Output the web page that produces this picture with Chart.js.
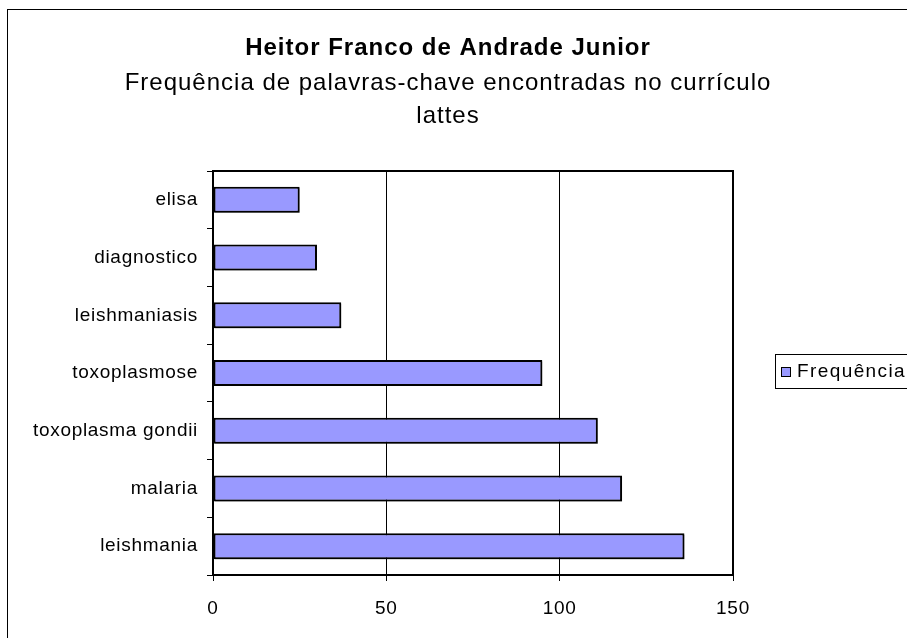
<!DOCTYPE html>
<html>
<head>
<meta charset="utf-8">
<script src="https://cdn.jsdelivr.net/npm/chart.js@4.4.1/dist/chart.umd.min.js"></script>
<style>
  html, body { margin: 0; padding: 0; background: #fff; }
  #wrap { width: 907px; height: 638px; position: relative; }
</style>
</head>
<body>
<div id="wrap"><canvas id="c" width="907" height="638"></canvas></div>
<script>
const categories = ['elisa', 'diagnostico', 'leishmaniasis', 'toxoplasmose', 'toxoplasma gondii', 'malaria', 'leishmania'];
const frequencia = [25, 30, 37, 95, 111, 118, 136];
const seriesName = 'Frequência';
const titleText = 'Heitor Franco de Andrade Junior';
const subtitleLines = ['Frequência de palavras-chave encontradas no currículo', 'lattes'];
const xTicks = [0, 50, 100, 150];

const FONT = '"Liberation Sans", Arial, sans-serif';

const spacingPlugin = {
  id: 'spacing',
  beforeUpdate(chart) { chart.ctx.letterSpacing = '0.7px'; },
  beforeDraw(chart) {
    const ctx = chart.ctx;
    ctx.letterSpacing = '0.7px';
    ctx.save();
    ctx.fillStyle = '#fff';
    ctx.fillRect(0, 0, chart.width, chart.height);
    ctx.strokeStyle = '#000';
    ctx.lineWidth = 1;
    ctx.strokeRect(7.5, 9.5, 1000, 1000);
    // titles
    ctx.fillStyle = '#000';
    ctx.textAlign = 'center';
    ctx.textBaseline = 'middle';
    ctx.letterSpacing = '1px';
    ctx.font = 'bold 24px ' + FONT;
    ctx.fillText(titleText, 448, 48);
    ctx.font = '24px ' + FONT;
    ctx.fillText(subtitleLines[0], 448, 83);
    ctx.fillText(subtitleLines[1], 448, 116);
    ctx.restore();
  },
  beforeDatasetsDraw(chart) {
    const ctx = chart.ctx;
    ctx.save();
    ctx.shadowColor = 'rgba(0,0,0,0.35)';
    ctx.shadowOffsetX = 1.5;
    ctx.shadowOffsetY = 1.5;
    ctx.shadowBlur = 0;
  },
  afterDatasetsDraw(chart) {
    chart.ctx.restore();
  },
  afterDraw(chart) {
    const ctx = chart.ctx;
    const a = chart.chartArea;
    ctx.save();
    ctx.strokeStyle = '#000';
    ctx.lineWidth = 2;
    ctx.strokeRect(a.left, a.top, a.right - a.left, a.bottom - a.top);
    // legend
    const ds = chart.data.datasets[0];
    ctx.lineWidth = 1;
    ctx.strokeRect(775.5, 354.5, 200, 34);
    ctx.fillStyle = ds.backgroundColor;
    ctx.fillRect(781, 367, 10, 10);
    ctx.strokeRect(781.5, 367.5, 9, 9);
    ctx.fillStyle = '#000';
    ctx.letterSpacing = '1.4px';
    ctx.font = '19px ' + FONT;
    ctx.textAlign = 'left';
    ctx.textBaseline = 'middle';
    ctx.fillText(ds.label, 797, 372);
    ctx.restore();
  }
};

new Chart(document.getElementById('c'), {
  type: 'bar',
  data: {
    labels: categories,
    datasets: [{
      label: seriesName,
      data: frequencia,
      backgroundColor: '#9999FF',
      borderColor: '#000',
      borderWidth: 2,
      borderSkipped: false,
      categoryPercentage: 1,
      barPercentage: 0.45
    }]
  },
  options: {
    indexAxis: 'y',
    responsive: false,
    animation: false,
    devicePixelRatio: 1,
    layout: { padding: { top: 171, right: 174, bottom: 0, left: 0 } },
    plugins: { legend: { display: false }, title: { display: false }, tooltip: { enabled: false } },
    scales: {
      x: {
        min: 0, max: 150,
        afterBuildTicks(scale) { scale.ticks = xTicks.map(v => ({ value: v })); },
        afterFit(scale) { scale.height = 63; },
        grid: { color: '#000', lineWidth: 1, tickLength: 6, drawTicks: true },
        border: { display: true, color: '#000', width: 2 },
        ticks: { color: '#000', font: { family: FONT, size: 19 }, padding: 16, maxRotation: 0 }
      },
      y: {
        afterFit(scale) { scale.width = 213; },
        grid: { drawOnChartArea: false, drawTicks: true, tickLength: 6, color: '#000', offset: true },
        border: { display: true, color: '#000', width: 2 },
        ticks: { color: '#000', font: { family: FONT, size: 19 }, padding: 9 }
      }
    }
  },
  plugins: [spacingPlugin]
});
</script>
</body>
</html>
